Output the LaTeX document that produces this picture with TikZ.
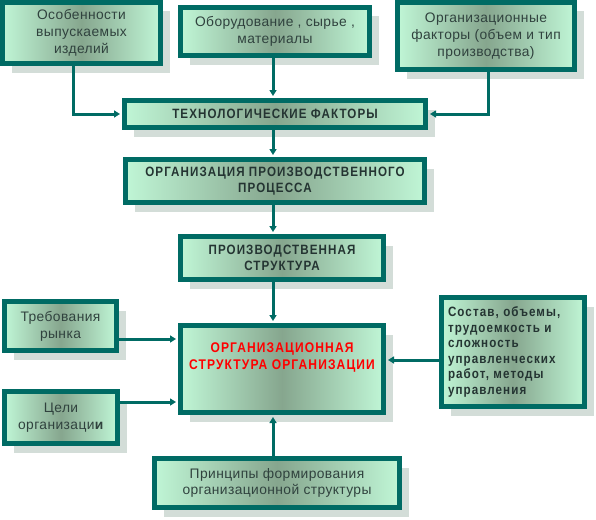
\documentclass[tikz,border=0pt]{standalone}
\usepackage{fontspec}
\setmainfont{Liberation Sans}
\newfontfamily\nfont[LetterSpace=3]{Liberation Sans}
\newfontfamily\hfont[LetterSpace=8,FakeStretch=0.86]{Liberation Sans}
\usetikzlibrary{arrows.meta,shadows}
\definecolor{tealb}{RGB}{0,107,100}
\definecolor{lite}{RGB}{192,246,214}
\definecolor{darkg}{RGB}{134,166,142}
\definecolor{shad}{RGB}{211,221,216}
\definecolor{txt}{RGB}{48,66,62}
\definecolor{htxt}{RGB}{36,52,50}
\tikzset{
  box/.style={draw=tealb, line width=5pt, left color=lite, right color=lite, middle color=darkg,
    drop shadow={shadow xshift=9pt, shadow yshift=-9pt, fill=shad, opacity=1},
    text=txt, align=center, inner sep=0pt},
  ntext/.style={font=\nfont\fontsize{13.8}{16.8}\selectfont},
  htext/.style={text=htxt, font=\hfont\bfseries\fontsize{13.5}{16.5}\selectfont},
  rtext/.style={text=red, font=\hfont\bfseries\fontsize{14}{17}\selectfont},
  conn/.style={draw=tealb, line width=3pt, -{Triangle[length=6pt,width=7pt]}, shorten >=2pt}
}
\begin{document}
\begin{tikzpicture}[x=1pt,y=-1pt]
\useasboundingbox (0,0) rectangle (596,519);
\node[box, ntext, minimum width=158pt, minimum height=61pt] (b1) at (81.5,33) {Особенности\\выпускаемых\\изделий};
\node[box, ntext, minimum width=189pt, minimum height=48pt] (b2) at (275,31.5) {Оборудование , сырье ,\\материалы};
\node[box, ntext, minimum width=177pt, minimum height=67pt] (b3) at (486,36) {Организационные\\факторы (объем и тип\\производства)};
\node[box, htext, minimum width=301pt, minimum height=27pt] (b4) at (275,114) {ТЕХНОЛОГИЧЕСКИЕ ФАКТОРЫ};
\node[box, htext, minimum width=299pt, minimum height=43pt] (b5) at (275,181) {ОРГАНИЗАЦИЯ ПРОИЗВОДСТВЕННОГО\\ПРОЦЕССА};
\node[box, htext, minimum width=203pt, minimum height=43pt] (b6) at (282,258) {ПРОИЗВОДСТВЕННАЯ\\СТРУКТУРА};
\node[box, ntext, minimum width=112pt, minimum height=49pt] (b7) at (60.5,326) {Требования\\рынка};
\node[box, ntext, minimum width=113pt, minimum height=52pt] (b8) at (61,417.5) {Цели\\организаци\textbf{и}};
\node[box, rtext, minimum width=203pt, minimum height=87pt] (b9) at (282,369) {ОРГАНИЗАЦИОННАЯ\\СТРУКТУРА ОРГАНИЗАЦИИ\\[8pt]};
\node[box, htext, align=left, text width=130pt, minimum width=143pt, minimum height=109pt, font=\hfont\bfseries\fontsize{13.5}{15.6}\selectfont] (b10) at (513,352) {Состав, объемы,\\трудоемкость и\\сложность\\управленческих\\работ, методы\\управления};
\node[box, ntext, minimum width=245pt, minimum height=49pt] (b11) at (277,483) {Принципы формирования\\организационной структуры};
\coordinate (vx) at (273,0);
\draw[conn] (vx |- b2.south) -- (vx |- b4.north);
\draw[conn] ([xshift=-8pt]b1.south) |- (b4.west);
\draw[conn] ([xshift=2pt]b3.south) |- (b4.east);
\draw[conn] (vx |- b4.south) -- (vx |- b5.north);
\draw[conn] (vx |- b5.south) -- (vx |- b6.north);
\draw[conn] (vx |- b6.south) -- (vx |- b9.north);
\draw[conn] (b7.east |- 0,339) -- (b9.west |- 0,339);
\draw[conn] (b8.east |- 0,402) -- (b9.west |- 0,402);
\draw[conn] (b10.west |- 0,360) -- (b9.east |- 0,360);
\draw[conn] (vx |- b11.north) -- (vx |- b9.south);
\end{tikzpicture}
\end{document}
